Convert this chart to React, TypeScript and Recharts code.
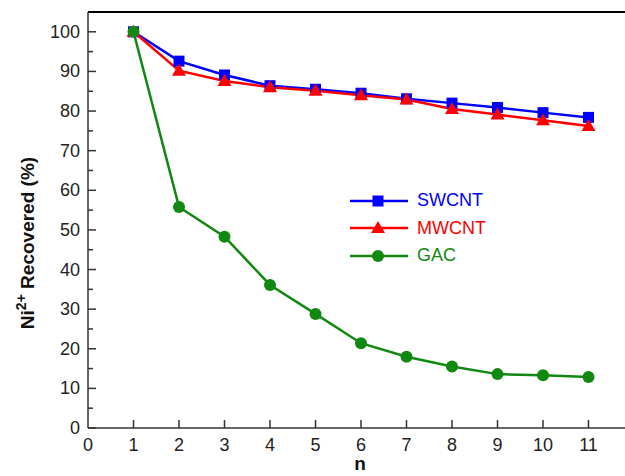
import {
  LineChart,
  Line,
  XAxis,
  YAxis,
  Legend,
  ReferenceLine,
} from "recharts";

const cycles = [1, 2, 3, 4, 5, 6, 7, 8, 9, 10, 11];
const swcnt = [100, 92.6, 89.1, 86.4, 85.5, 84.5, 83.1, 82.0, 80.9, 79.6, 78.4];
const mwcnt = [100, 90.2, 87.6, 86.0, 85.1, 84.0, 82.9, 80.5, 79.1, 77.7, 76.2];
const gac = [100, 55.8, 48.3, 36.1, 28.8, 21.4, 18.0, 15.5, 13.6, 13.3, 12.9];

const xTicks = [0, 1, 2, 3, 4, 5, 6, 7, 8, 9, 10, 11];
const yTicks = [0, 5, 10, 15, 20, 25, 30, 35, 40, 45, 50, 55, 60, 65, 70, 75, 80, 85, 90, 95, 100];

const data = cycles.map((n, i) => ({
  n,
  SWCNT: swcnt[i],
  MWCNT: mwcnt[i],
  GAC: gac[i],
}));

const PLOT_LEFT = 88;
const PLOT_BOTTOM = 428;
const FONT = "'Liberation Sans', Arial, sans-serif";
const AXIS = "#333";

const series = [
  { key: "SWCNT", color: "#0000ff", shape: "square" },
  { key: "MWCNT", color: "#ff0000", shape: "triangle" },
  { key: "GAC", color: "#118811", shape: "circle" },
];

function Marker({ cx, cy, shape, color }: any) {
  if (cx == null || cy == null) return null;
  if (shape === "square")
    return <rect x={cx - 5.5} y={cy - 5.5} width={11} height={11} fill={color} />;
  if (shape === "triangle")
    return (
      <polygon
        points={`${cx},${cy - 7} ${cx - 7},${cy + 5} ${cx + 7},${cy + 5}`}
        fill={color}
      />
    );
  return <circle cx={cx} cy={cy} r={6} fill={color} />;
}

function YTick(props: any) {
  const { y, payload } = props;
  const v = payload.value;
  const major = v % 10 === 0;
  return (
    <g>
      <line x1={PLOT_LEFT} x2={PLOT_LEFT + (major ? 8 : 5)} y1={y} y2={y} stroke={AXIS} strokeWidth={1.5} />
      {major && (
        <text x={PLOT_LEFT - 8} y={y} textAnchor="end" dominantBaseline="central" fontSize={18} fontFamily={FONT} fill="#222">
          {v}
        </text>
      )}
    </g>
  );
}

function XTick(props: any) {
  const { x, payload } = props;
  return (
    <g>
      {payload.value !== 0 && (
        <line x1={x} x2={x} y1={PLOT_BOTTOM} y2={PLOT_BOTTOM - 8} stroke={AXIS} strokeWidth={1.5} />
      )}
      <text x={x} y={PLOT_BOTTOM + 23} textAnchor="middle" fontSize={18} fontFamily={FONT} fill="#222">
        {payload.value}
      </text>
    </g>
  );
}

function LegendBox() {
  return (
    <div style={{ fontFamily: FONT, fontSize: 18 }}>
      {series.map((s) => (
        <div key={s.key} style={{ display: "flex", alignItems: "center", height: 27.5 }}>
          <svg width={62} height={16}>
            <line x1={2} x2={60} y1={8} y2={8} stroke={s.color} strokeWidth={2.5} />
            <Marker cx={30} cy={8} shape={s.shape} color={s.color} />
          </svg>
          <span style={{ color: s.color, marginLeft: 7 }}>{s.key}</span>
        </div>
      ))}
    </div>
  );
}

function YLabel() {
  return (
    <text
      transform="translate(34, 243) rotate(-90)"
      textAnchor="middle"
      fontFamily={FONT}
      fontWeight="bold"
      fontSize={19}
      fill="#111"
    >
      Ni<tspan dy={-8} fontSize={14}>2+</tspan>
      <tspan dy={8}> Recovered (%)</tspan>
    </text>
  );
}

function XLabel() {
  return (
    <text x={360} y={470} textAnchor="middle" fontFamily={FONT} fontWeight="bold" fontSize={19} fill="#111">
      n
    </text>
  );
}

export default function App() {
  return (
    <div style={{ position: "absolute", left: 0, top: 0, width: 625, height: 476, overflow: "hidden", background: "#fff" }}>
      <LineChart
        width={640}
        height={476}
        data={data}
        margin={{ top: 12, right: 6, bottom: 0, left: 0 }}
      >
        <XAxis
          dataKey="n"
          type="number"
          domain={[0, 12]}
          ticks={xTicks}
          height={48}
          tick={<XTick />}
          tickLine={false}
          axisLine={{ stroke: AXIS, strokeWidth: 1.5 }}
          label={<XLabel />}
        />
        <YAxis
          type="number"
          domain={[0, 105]}
          ticks={yTicks}
          width={88}
          interval={0}
          tick={<YTick />}
          tickLine={false}
          axisLine={{ stroke: AXIS, strokeWidth: 1.5 }}
          label={<YLabel />}
        />
        <ReferenceLine y={105} stroke="#000" strokeWidth={2} />
        {series.map((s) => (
          <Line
            key={s.key}
            dataKey={s.key}
            stroke={s.color}
            strokeWidth={2.5}
            type="linear"
            dot={(p: any) => <Marker key={p.index} cx={p.cx} cy={p.cy} shape={s.shape} color={s.color} />}
            isAnimationActive={false}
          />
        ))}
        <Legend
          layout="vertical"
          align="center"
          verticalAlign="middle"
          content={<LegendBox />}
          wrapperStyle={{ position: "absolute", left: 348, top: 187, width: 170 }}
        />
      </LineChart>
    </div>
  );
}
